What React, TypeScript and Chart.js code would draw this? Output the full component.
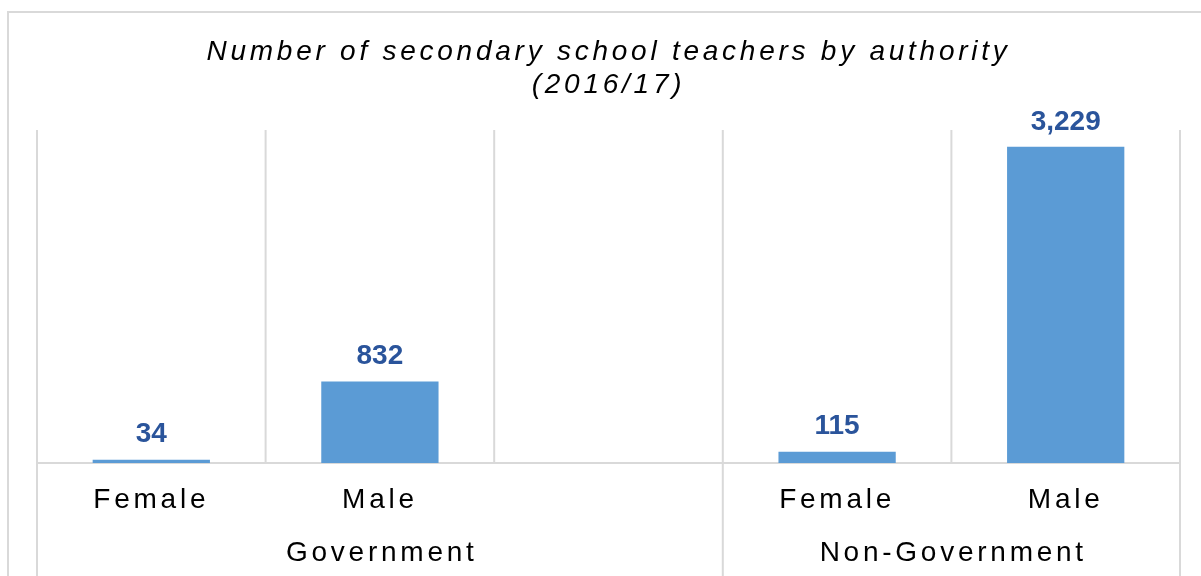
import React, { useEffect, useRef } from 'react';
import { Chart, registerables } from 'chart.js';

Chart.register(...registerables);

const categories = ['Female', 'Male', '', 'Female', 'Male'];
const teachers: (number | null)[] = [34, 832, null, 115, 3229];
const groupLabels = ['Government', 'Non-Government'];
const groupSizes = [3, 2];
const titleLines = ['Number of secondary school teachers by authority', '(2016/17)'];

const FONT = '"Liberation Sans", Arial, Helvetica, sans-serif';
const GRID = '#D9D9D9';
const BAR = '#5B9BD5';
const LABEL = '#2A549B';
const SPACING = 3.75;

const framePlugin = {
  id: 'frame',
  beforeDraw(chart: any) {
    const ctx = chart.ctx;
    ctx.save();
    ctx.strokeStyle = GRID;
    ctx.lineWidth = 2;
    ctx.beginPath();
    ctx.moveTo(8, chart.height + 10);
    ctx.lineTo(8, 12);
    ctx.lineTo(chart.width + 10, 12);
    ctx.stroke();
    ctx.restore();
    ctx.letterSpacing = SPACING + 'px';
  },
  beforeDatasetsDraw(chart: any) {
    const ctx = chart.ctx;
    const xs = chart.scales.x;
    const { top, bottom } = chart.chartArea;
    const step = xs.getPixelForValue(1) - xs.getPixelForValue(0);
    const groupEdges = new Set<number>([0]);
    let acc = 0;
    groupSizes.forEach((s) => {
      acc += s;
      groupEdges.add(acc);
    });
    ctx.save();
    ctx.strokeStyle = GRID;
    ctx.lineWidth = 2;
    for (let i = 0; i <= categories.length; i++) {
      const px = xs.getPixelForValue(0) - step / 2 + i * step;
      ctx.beginPath();
      ctx.moveTo(px, top);
      ctx.lineTo(px, groupEdges.has(i) ? chart.height : bottom);
      ctx.stroke();
    }
    ctx.beginPath();
    ctx.moveTo(xs.left, bottom);
    ctx.lineTo(xs.right, bottom);
    ctx.stroke();
    ctx.restore();
  },
  afterDatasetsDraw(chart: any) {
    const ctx = chart.ctx;
    const meta = chart.getDatasetMeta(0);
    ctx.save();
    ctx.letterSpacing = '0px';
    ctx.font = `bold 28px ${FONT}`;
    ctx.fillStyle = LABEL;
    ctx.textAlign = 'center';
    ctx.textBaseline = 'middle';
    meta.data.forEach((el: any, i: number) => {
      const v = teachers[i];
      if (v == null) return;
      ctx.fillText(v.toLocaleString('en-US'), el.x, el.y - 25);
    });
    ctx.restore();
  },
  afterDraw(chart: any) {
    const ctx = chart.ctx;
    const xs = chart.scales.x;
    const step = xs.getPixelForValue(1) - xs.getPixelForValue(0);
    ctx.save();
    ctx.letterSpacing = SPACING + 'px';
    ctx.font = `28px ${FONT}`;
    ctx.fillStyle = '#000000';
    ctx.textAlign = 'center';
    ctx.textBaseline = 'middle';
    let start = 0;
    groupLabels.forEach((g, gi) => {
      const left = xs.getPixelForValue(start) - step / 2;
      const right = left + groupSizes[gi] * step;
      ctx.fillText(g, (left + right) / 2 + SPACING / 2, 553);
      start += groupSizes[gi];
    });
    ctx.restore();
  },
};

export default function App() {
  const ref = useRef<HTMLCanvasElement | null>(null);

  useEffect(() => {
    if (!ref.current) return;
    const chart = new Chart(ref.current, {
      type: 'bar',
      data: {
        labels: categories,
        datasets: [
          {
            data: teachers as any,
            backgroundColor: BAR,
            borderWidth: 0,
            barPercentage: 0.513,
            categoryPercentage: 1,
          },
        ],
      },
      options: {
        responsive: false,
        animation: false,
        devicePixelRatio: 1,
        layout: { padding: { top: 0, left: 37, right: 21, bottom: 0 } },
        plugins: {
          legend: { display: false },
          tooltip: { enabled: false },
          title: {
            display: true,
            text: titleLines,
            color: '#000000',
            font: { family: FONT, size: 28, style: 'italic', weight: 'normal', lineHeight: 1.18 },
            padding: { top: 36, bottom: 28 },
          },
        },
        scales: {
          x: {
            grid: { display: false, drawTicks: false },
            border: { display: false },
            ticks: {
              color: '#000000',
              font: { family: FONT, size: 28, lineHeight: 1.2 },
              padding: 20,
              autoSkip: false,
              maxRotation: 0,
              minRotation: 0,
            },
            afterFit: (scale: any) => {
              scale.height = 113;
            },
          },
          y: {
            display: false,
            min: 0,
            max: 3400,
          },
        },
      },
      plugins: [framePlugin],
    });
    return () => chart.destroy();
  }, []);

  return (
    <div style={{ position: 'fixed', left: 0, top: 0, width: 1201, height: 576, background: '#fff' }}>
      <canvas ref={ref} width={1201} height={576} />
    </div>
  );
}
